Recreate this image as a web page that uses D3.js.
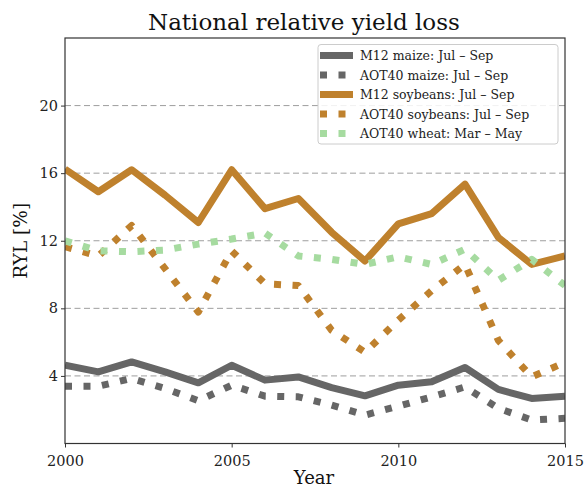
<!DOCTYPE html>
<html><head><meta charset="utf-8">
<script src="https://cdn.jsdelivr.net/npm/d3@7"></script>
<style>body{margin:0;background:#fff}svg{font-family:"DejaVu Serif",serif}</style>
</head><body><svg id="c" width="584" height="488"></svg>
<script>
const years = d3.range(2000, 2016);
const m12Maize   = [4.63,4.24,4.83,4.24,3.59,4.63,3.75,3.94,3.31,2.82,3.45,3.65,4.5,3.2,2.67,2.8];
const aotMaize   = [3.39,3.39,3.85,3.26,2.53,3.45,2.8,2.76,2.27,1.68,2.21,2.76,3.35,2.08,1.39,1.49];
const m12Soy     = [16.24,14.9,16.2,14.7,13.08,16.2,13.9,14.5,12.5,10.8,13.0,13.6,15.35,12.2,10.6,11.1];
const aotSoy     = [11.65,11.1,12.9,10.35,7.78,11.4,9.45,9.35,6.7,5.4,7.3,9.05,10.6,6.1,3.94,4.8];
const aotWheat   = [12.0,11.4,11.35,11.45,11.8,12.1,12.45,11.1,10.9,10.6,11.05,10.6,11.5,9.65,10.9,9.35];
const yTicks = [4,8,12,16,20];
const xTicks = [2000,2005,2010,2015];
const seriesNames = ["M12 maize: Jul \u2013 Sep","AOT40 maize: Jul \u2013 Sep","M12 soybeans: Jul \u2013 Sep","AOT40 soybeans: Jul \u2013 Sep","AOT40 wheat: Mar \u2013 May"];
const seriesColors = ["#666666","#666666","#bf812d","#bf812d","#a6dba0"];
const seriesDotted = [false,true,false,true,true];
const seriesValues = [m12Maize,aotMaize,m12Soy,aotSoy,aotWheat];

const svg = d3.select("#c");
const L=65, R=565, T=38, B=443.5;
const x = d3.scaleLinear().domain([2000,2015]).range([L,R]);
const y = d3.scaleLinear().domain([0,24]).range([B,T]);
const lw = 7, dash = "7,11.5";

// grid
svg.append("g").selectAll("line").data(yTicks).join("line")
  .attr("x1",L).attr("x2",R).attr("y1",d=>y(d)).attr("y2",d=>y(d))
  .attr("stroke","#9e9e9e").attr("stroke-width",1).attr("stroke-dasharray","6,3.5");

const clip = svg.append("clipPath").attr("id","cp").append("rect")
  .attr("x",L).attr("y",T).attr("width",R-L).attr("height",B-T);
const line = d3.line().x((d,i)=>x(years[i])).y(d=>y(d));
const g = svg.append("g").attr("clip-path","url(#cp)");
seriesValues.forEach((vals,k)=>{
  g.append("path").attr("d",line(vals)).attr("fill","none")
   .attr("stroke",seriesColors[k]).attr("stroke-width",lw)
   .attr("stroke-linejoin","round")
   .attr("stroke-dasharray",seriesDotted[k]?dash:null);
});

// axes
const xa = svg.append("g").attr("transform",`translate(0,${B})`)
  .call(d3.axisBottom(x).tickValues(xTicks).tickFormat(d3.format("d")).tickSize(4).tickSizeOuter(0));
const ya = svg.append("g").attr("transform",`translate(${L},0)`)
  .call(d3.axisLeft(y).tickValues(yTicks).tickSize(4).tickSizeOuter(0));
[xa,ya].forEach(a=>{a.select(".domain").remove();
  a.selectAll("text").attr("font-family","DejaVu Serif").attr("font-size",14.5).attr("fill","#222");
  a.selectAll("line").attr("stroke","#333");});
xa.selectAll("text").attr("dy","1.05em");
// frame
svg.append("rect").attr("x",L).attr("y",T).attr("width",R-L).attr("height",B-T)
  .attr("fill","none").attr("stroke","#333").attr("stroke-width",1.2);

// labels
svg.append("text").attr("x",148).attr("y",30).attr("text-anchor","start")
  .attr("font-size",23).attr("fill","#111").text("National relative yield loss");
svg.append("text").attr("x",314).attr("y",484).attr("text-anchor","middle")
  .attr("font-size",18).attr("fill","#111").text("Year");
svg.append("text").attr("transform",`translate(27,${(T+B)/2}) rotate(-90)`).attr("text-anchor","middle")
  .attr("font-size",18.5).attr("fill","#111").text("RYL [%]");

// legend
const lg = svg.append("g");
lg.append("rect").attr("x",318).attr("y",44.5).attr("width",240).attr("height",99.5).attr("rx",3)
  .attr("fill","#fff").attr("fill-opacity",0.85).attr("stroke","#ccc");
seriesNames.forEach((n,k)=>{
  const yy = 55.5 + k*19.5;
  lg.append("line").attr("x1",320).attr("x2",353).attr("y1",yy).attr("y2",yy)
    .attr("stroke",seriesColors[k]).attr("stroke-width",lw)
    .attr("stroke-dasharray",seriesDotted[k]?dash:null);
  lg.append("text").attr("x",360).attr("y",yy+4.5).attr("font-size",12.5).attr("fill","#222").text(n);
});
</script></body></html>
